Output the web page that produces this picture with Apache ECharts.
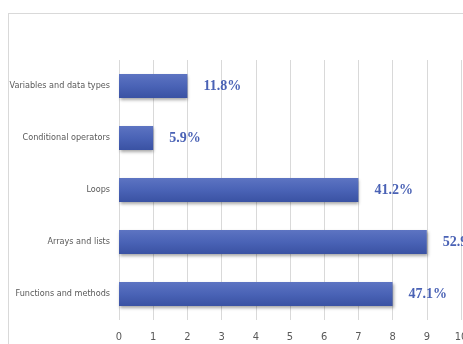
<!DOCTYPE html>
<html><head><meta charset="utf-8">
<script src="https://cdn.jsdelivr.net/npm/echarts@6/dist/echarts.min.js"></script>
<style>
html,body{margin:0;padding:0;background:#fff;overflow:hidden}
#frame{position:absolute;left:8px;top:13px;width:470px;height:350px;border:1px solid #d9d9d9;box-sizing:border-box}
#c{position:absolute;left:0;top:0;width:463px;height:344px}
</style></head>
<body><div id="frame"></div><div id="c"></div>
<script>
const categories = ["Functions and methods","Arrays and lists","Loops","Conditional operators","Variables and data types"];
const values = [8, 9, 7, 1, 2];
const percentLabels = ["47.1%","52.9%","41.2%","5.9%","11.8%"];
const xTicks = [0,1,2,3,4,5,6,7,8,9,10];

const sansFont = "'DejaVu Sans Condensed', 'DejaVu Sans', sans-serif";
const chart = echarts.init(document.getElementById('c'));
chart.setOption({
  animation:false,
  grid:{left:119, top:60, width:342, height:260, containLabel:false, outerBoundsMode:'none'},
  xAxis:{type:'value', min:0, max:10, interval:1,
    axisLine:{show:false}, axisTick:{show:false},
    splitLine:{lineStyle:{color:'#d9d9d9', width:1}},
    axisLabel:{margin:12, color:'#595959', fontStyle:'condensed', fontFamily:sansFont, fontSize:11,
      formatter:v=>String(xTicks[v] ?? v)}},
  yAxis:{type:'category', data:categories,
    axisLine:{show:false}, axisTick:{show:false},
    axisLabel:{margin:9, color:'#595959', fontStyle:'condensed', fontFamily:sansFont, fontSize:9}},
  series:[{type:'bar', data:values, barWidth:24,
    itemStyle:{color:new echarts.graphic.LinearGradient(0,0,0,1,[{offset:0,color:'#5d74c2'},{offset:0.5,color:'#4a63b6'},{offset:1,color:'#3a52a3'}]),
      shadowColor:'rgba(0,0,0,0.35)', shadowBlur:3, shadowOffsetX:1, shadowOffsetY:2},
    label:{show:true, position:'right', distance:16, color:'#4a62b5', fontFamily:'Liberation Serif, serif', fontWeight:'bold', fontSize:14,
      formatter:p=>percentLabels[p.dataIndex]}}]
});
</script></body></html>
